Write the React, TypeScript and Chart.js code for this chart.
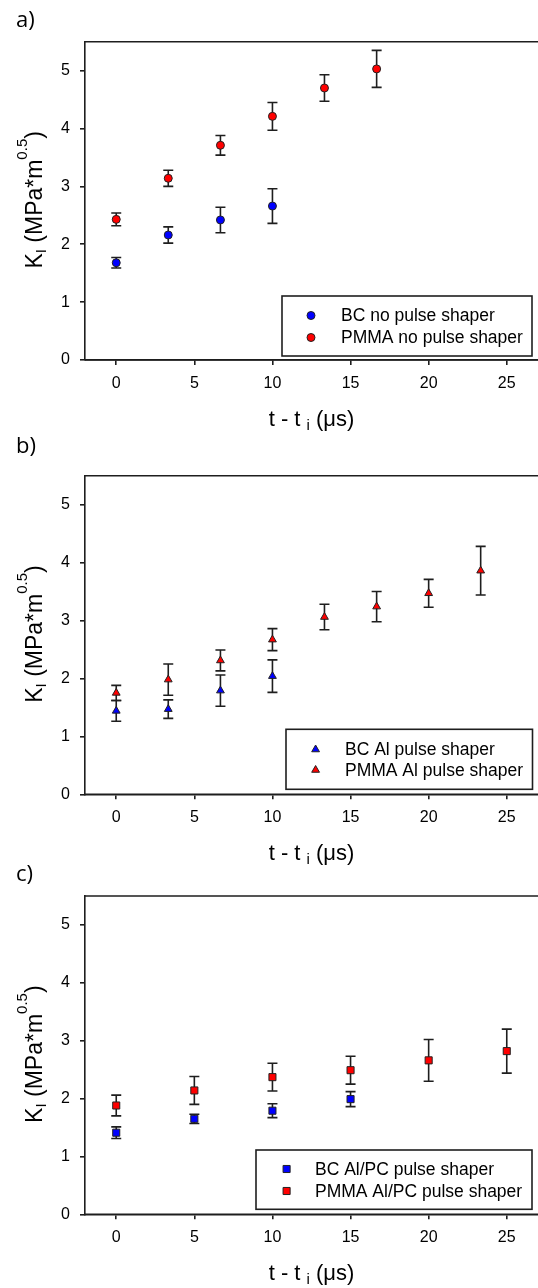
import React, { useEffect, useRef } from 'react';
import { Chart, registerables } from 'chart.js';

Chart.register(...registerables);

// ---------- data ----------
const xTickValues = [0, 5, 10, 15, 20, 25];
const yTickValues = [0, 1, 2, 3, 4, 5];

// panel a
const aTimesBC = [0, 3.33, 6.67, 10];
const aBC = [1.68, 2.16, 2.42, 2.66];
const aBCErr = [0.09, 0.14, 0.22, 0.3];
const aTimesPMMA = [0, 3.33, 6.67, 10, 13.33, 16.67];
const aPMMA = [2.43, 3.14, 3.71, 4.21, 4.7, 5.03];
const aPMMAErr = [0.11, 0.14, 0.17, 0.24, 0.23, 0.32];
const aLabels = ['BC no pulse shaper', 'PMMA no pulse shaper'];

// panel b
const bTimesBC = [0, 3.33, 6.67, 10];
const bBC = [1.44, 1.47, 1.79, 2.04];
const bBCErr = [0.18, 0.16, 0.27, 0.28];
const bTimesPMMA = [0, 3.33, 6.67, 10, 13.33, 16.67, 20, 23.33];
const bPMMA = [1.75, 1.98, 2.31, 2.67, 3.06, 3.24, 3.47, 3.86];
const bPMMAErr = [0.13, 0.27, 0.18, 0.19, 0.22, 0.26, 0.24, 0.42];
const bLabels = ['BC Al pulse shaper', 'PMMA Al pulse shaper'];

// panel c
const cTimesBC = [0, 5, 10, 15];
const cBC = [1.41, 1.65, 1.79, 1.99];
const cBCErr = [0.1, 0.08, 0.12, 0.13];
const cTimesPMMA = [0, 5, 10, 15, 20, 25];
const cPMMA = [1.88, 2.14, 2.37, 2.49, 2.66, 2.82];
const cPMMAErr = [0.18, 0.24, 0.24, 0.24, 0.36, 0.38];
const cLabels = ['BC Al/PC pulse shaper', 'PMMA Al/PC pulse shaper'];

const panelLetters = ['a)', 'b)', 'c)'];

// ---------- styling / layout ----------
const W = 538;
const AXIS_LEFT = 85;
const X_MIN = -2;
const X_MAX = 27;
const Y_MIN = 0;
const Y_MAX = 5.5;
const INK = '#1e1e1e';
const BLUE = '#0000ff';
const RED = '#ff0000';
const SANS = '"Liberation Sans", Arial, sans-serif';

type Legend = { left: number; top: number; right: number; bottom: number; markerX: number; textX: number; rows: number[] };
type PanelCfg = {
  pageTop: number;
  height: number;
  areaTop: number;
  areaBottom: number;
  letter: string;
  letterY: number;
  style: 'circle' | 'triangle' | 'rect';
  radius: number;
  series: { label: string; xs: number[]; ys: number[]; errs: number[]; color: string }[];
  legend: Legend;
};

const panels: PanelCfg[] = [
  {
    pageTop: 0,
    height: 440,
    areaTop: 41.7,
    areaBottom: 360,
    letter: panelLetters[0],
    letterY: 27,
    style: 'circle',
    radius: 4,
    series: [
      { label: aLabels[0], xs: aTimesBC, ys: aBC, errs: aBCErr, color: BLUE },
      { label: aLabels[1], xs: aTimesPMMA, ys: aPMMA, errs: aPMMAErr, color: RED },
    ],
    legend: { left: 282, top: 296, right: 532, bottom: 356, markerX: 311, textX: 341, rows: [315.5, 337.5] },
  },
  {
    pageTop: 430,
    height: 440,
    areaTop: 45.7,
    areaBottom: 364.3,
    letter: panelLetters[1],
    letterY: 23,
    style: 'triangle',
    radius: 4.5,
    series: [
      { label: bLabels[0], xs: bTimesBC, ys: bBC, errs: bBCErr, color: BLUE },
      { label: bLabels[1], xs: bTimesPMMA, ys: bPMMA, errs: bPMMAErr, color: RED },
    ],
    legend: { left: 286, top: 299.3, right: 532.5, bottom: 359.3, markerX: 315.6, textX: 345, rows: [319.5, 340] },
  },
  {
    pageTop: 860,
    height: 428,
    areaTop: 36,
    areaBottom: 354.3,
    letter: panelLetters[2],
    letterY: 21,
    style: 'rect',
    radius: 5,
    series: [
      { label: cLabels[0], xs: cTimesBC, ys: cBC, errs: cBCErr, color: BLUE },
      { label: cLabels[1], xs: cTimesPMMA, ys: cPMMA, errs: cPMMAErr, color: RED },
    ],
    legend: { left: 256, top: 290, right: 532, bottom: 349.3, markerX: 286.6, textX: 315, rows: [309, 331] },
  },
];

function drawPieces(ctx: CanvasRenderingContext2D, pieces: { t: string; size: number; dy: number }[], cx: number, baseY: number) {
  let total = 0;
  for (const p of pieces) {
    ctx.font = `${p.size}px ${SANS}`;
    total += ctx.measureText(p.t).width;
  }
  let x = cx - total / 2;
  ctx.textAlign = 'left';
  ctx.textBaseline = 'alphabetic';
  for (const p of pieces) {
    ctx.font = `${p.size}px ${SANS}`;
    ctx.fillText(p.t, x, baseY + p.dy);
    x += ctx.measureText(p.t).width;
  }
}

function makeDecor(cfg: PanelCfg) {
  return {
    id: 'decor',
    beforeDatasetsDraw(chart: any) {
      const ctx: CanvasRenderingContext2D = chart.ctx;
      const xs = chart.scales.x;
      const ys = chart.scales.y;
      ctx.save();
      ctx.strokeStyle = INK;
      ctx.lineWidth = 1.6;
      cfg.series.forEach((s) => {
        s.xs.forEach((xv, j) => {
          const px = xs.getPixelForValue(xv);
          const hi = ys.getPixelForValue(s.ys[j] + s.errs[j]);
          const lo = ys.getPixelForValue(s.ys[j] - s.errs[j]);
          ctx.beginPath();
          ctx.moveTo(px, hi);
          ctx.lineTo(px, lo);
          ctx.moveTo(px - 5, hi);
          ctx.lineTo(px + 5, hi);
          ctx.moveTo(px - 5, lo);
          ctx.lineTo(px + 5, lo);
          ctx.stroke();
        });
      });
      ctx.restore();
    },
    afterDraw(chart: any) {
      const ctx: CanvasRenderingContext2D = chart.ctx;
      const area = chart.chartArea;
      ctx.save();
      // top and bottom frame lines running to the page edge
      ctx.strokeStyle = INK;
      ctx.lineWidth = 1.6;
      ctx.beginPath();
      ctx.moveTo(area.left, area.top);
      ctx.lineTo(W, area.top);
      ctx.moveTo(area.left, area.bottom);
      ctx.lineTo(W, area.bottom);
      ctx.stroke();

      ctx.fillStyle = '#000';
      // x title: t - t_i (μs)
      drawPieces(
        ctx,
        [
          { t: 't - t ', size: 22, dy: 0 },
          { t: 'i', size: 15, dy: 4 },
          { t: ' (μs)', size: 22, dy: 0 },
        ],
        (area.left + area.right) / 2,
        area.bottom + 66
      );

      // y title: K_I (MPa*m^0.5)
      ctx.save();
      ctx.translate(42, (area.top + area.bottom) / 2 - 1);
      ctx.rotate(-Math.PI / 2);
      drawPieces(
        ctx,
        [
          { t: 'K', size: 23, dy: 0 },
          { t: 'I', size: 15, dy: 4 },
          { t: ' (MPa*m', size: 23, dy: 0 },
          { t: '0.5', size: 15, dy: -15 },
          { t: ')', size: 23, dy: 0 },
        ],
        0,
        0
      );
      ctx.restore();

      // panel letter
      ctx.font = `22px "Open Sans", Lato, sans-serif`;
      ctx.textAlign = 'left';
      ctx.textBaseline = 'alphabetic';
      ctx.fillText(cfg.letter, 16, cfg.letterY);

      // legend box
      const L = cfg.legend;
      ctx.fillStyle = '#ffffff';
      ctx.fillRect(L.left, L.top, L.right - L.left, L.bottom - L.top);
      ctx.strokeStyle = INK;
      ctx.lineWidth = 1.6;
      ctx.strokeRect(L.left, L.top, L.right - L.left, L.bottom - L.top);
      cfg.series.forEach((s, i) => {
        const y = L.rows[i];
        ctx.fillStyle = s.color;
        ctx.strokeStyle = '#222';
        ctx.lineWidth = 1;
        ctx.beginPath();
        const r = cfg.radius;
        if (cfg.style === 'circle') {
          ctx.arc(L.markerX, y, r, 0, Math.PI * 2);
        } else if (cfg.style === 'triangle') {
          for (let k = 0; k < 3; k++) {
            const a = (k * 2 * Math.PI) / 3;
            const px = L.markerX + Math.sin(a) * r;
            const py = y - Math.cos(a) * r;
            if (k === 0) ctx.moveTo(px, py);
            else ctx.lineTo(px, py);
          }
          ctx.closePath();
        } else {
          const h = r * Math.SQRT1_2;
          ctx.rect(L.markerX - h, y - h, 2 * h, 2 * h);
        }
        ctx.fill();
        ctx.stroke();
        ctx.fillStyle = '#000';
        ctx.font = `17.5px ${SANS}`;
        ctx.textAlign = 'left';
        ctx.textBaseline = 'middle';
        ctx.fillText(s.label, L.textX, y + 1);
      });
      ctx.restore();
    },
  };
}

function Panel({ cfg }: { cfg: PanelCfg }) {
  const ref = useRef<HTMLCanvasElement | null>(null);
  useEffect(() => {
    const canvas = ref.current;
    if (!canvas) return;
    const datasets = cfg.series.map((s) => ({
      label: s.label,
      data: s.xs.map((x, i) => ({ x, y: s.ys[i] })),
      backgroundColor: s.color,
      borderColor: '#222',
      borderWidth: 1,
      pointStyle: cfg.style,
      pointRadius: cfg.radius,
      pointHoverRadius: cfg.radius,
      showLine: false,
    }));
    const chart = new Chart(canvas, {
      type: 'scatter',
      data: { datasets },
      options: {
        animation: false,
        responsive: false,
        events: [],
        layout: { autoPadding: false, padding: { top: cfg.areaTop, left: 0, right: 0, bottom: 0 } },
        plugins: { legend: { display: false }, tooltip: { enabled: false } },
        scales: {
          x: {
            type: 'linear',
            min: X_MIN,
            max: X_MAX,
            afterBuildTicks: (scale: any) => {
              scale.ticks = xTickValues.map((v) => ({ value: v }));
            },
            afterFit: (scale: any) => {
              scale.height = cfg.height - cfg.areaBottom;
              scale.paddingLeft = 0;
              scale.paddingRight = 0;
            },
            grid: { display: true, drawOnChartArea: false, drawTicks: true, tickLength: 5, color: INK, lineWidth: 1.6 },
            border: { display: true, color: INK, width: 1.6 },
            ticks: { color: '#000', font: { family: SANS, size: 16 }, padding: 9, maxRotation: 0, autoSkip: false },
          },
          y: {
            type: 'linear',
            min: Y_MIN,
            max: Y_MAX,
            afterBuildTicks: (scale: any) => {
              scale.ticks = yTickValues.map((v) => ({ value: v }));
            },
            afterFit: (scale: any) => {
              scale.width = AXIS_LEFT;
              scale.paddingTop = 0;
              scale.paddingBottom = 0;
            },
            grid: { display: true, drawOnChartArea: false, drawTicks: true, tickLength: 5, color: INK, lineWidth: 1.6 },
            border: { display: true, color: INK, width: 1.6 },
            ticks: { color: '#000', font: { family: SANS, size: 16 }, padding: 10, autoSkip: false },
          },
        },
      },
      plugins: [makeDecor(cfg)],
    } as any);
    return () => chart.destroy();
  }, [cfg]);
  return (
    <canvas
      ref={ref}
      width={W}
      height={cfg.height}
      style={{ position: 'absolute', left: 0, top: cfg.pageTop, width: W, height: cfg.height }}
    />
  );
}

export default function App() {
  return (
    <div
      style={{
        position: 'absolute',
        left: 0,
        top: 0,
        width: W,
        height: 1288,
        overflow: 'hidden',
        background: '#ffffff',
      }}
    >
      {panels.map((p, i) => (
        <Panel key={i} cfg={p} />
      ))}
    </div>
  );
}
